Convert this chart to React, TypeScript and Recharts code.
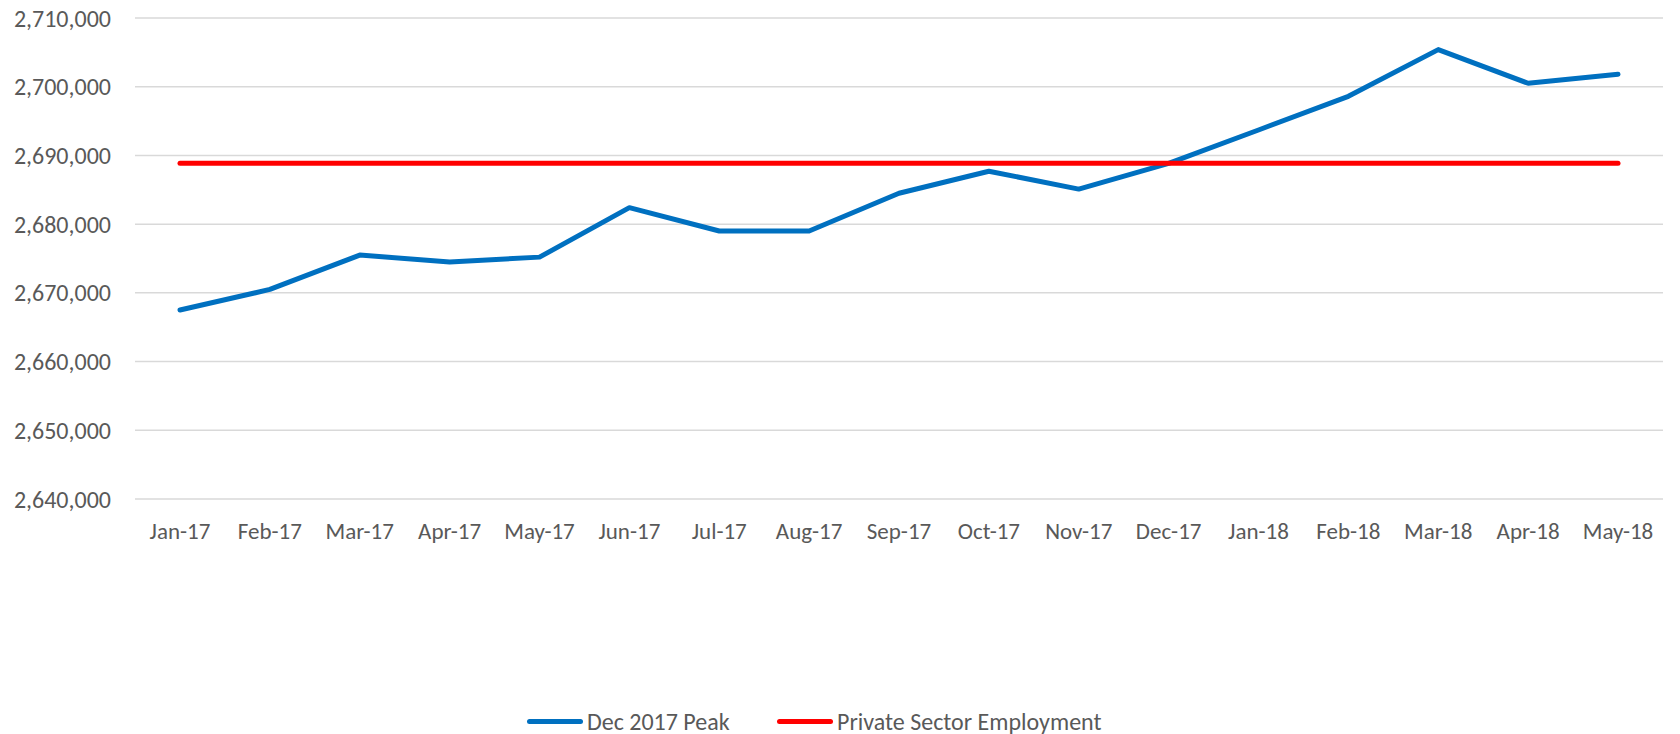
import { LineChart, Line, XAxis, YAxis, CartesianGrid } from "recharts";

const months = [
  "Jan-17", "Feb-17", "Mar-17", "Apr-17", "May-17", "Jun-17", "Jul-17", "Aug-17", "Sep-17",
  "Oct-17", "Nov-17", "Dec-17", "Jan-18", "Feb-18", "Mar-18", "Apr-18", "May-18",
];

const peakSeries = [
  2667500, 2670500, 2675500, 2674500, 2675200, 2682400, 2679000, 2679000, 2684500,
  2687700, 2685100, 2688850, 2693700, 2698600, 2705400, 2700500, 2701800,
];

const privateSector = [
  2688850, 2688850, 2688850, 2688850, 2688850, 2688850, 2688850, 2688850, 2688850,
  2688850, 2688850, 2688850, 2688850, 2688850, 2688850, 2688850, 2688850,
];

const yTicks = [2640000, 2650000, 2660000, 2670000, 2680000, 2690000, 2700000, 2710000];

const FONT = "Calibri, Carlito, 'Liberation Sans', Arial, sans-serif";
const TEXT = "#595959";

const data = months.map((m, i) => ({
  month: m,
  peak: peakSeries[i],
  priv: privateSector[i],
}));

function LegendItem({ left, color, label }: { left: number; color: string; label: string }) {
  return (
    <div style={{ position: "absolute", left, top: 707, display: "flex", alignItems: "center" }}>
      <div style={{ width: 56, height: 5, borderRadius: 3, background: color, marginRight: 4 }} />
      <span style={{ fontFamily: FONT, fontSize: 24, color: TEXT, lineHeight: "29px" }}>{label}</span>
    </div>
  );
}

export default function App() {
  return (
    <div style={{ position: "absolute", left: 0, top: 0, width: 1680, height: 734, background: "#fff" }}>
      <LineChart
        width={1680}
        height={734}
        data={data}
        margin={{ top: 18, right: 17, left: 0, bottom: 205 }}
      >
        <CartesianGrid vertical={false} stroke="#d9d9d9" strokeWidth={1.5} />
        <XAxis
          dataKey="month"
          axisLine={false}
          tickLine={false}
          tickSize={0}
          tickMargin={24}
          height={30}
          interval={0}
          padding={{ left: 45, right: 45 }}
          tick={{ fontSize: 23, fill: TEXT, fontFamily: FONT }}
        />
        <YAxis
          type="number"
          domain={[2640000, 2710000]}
          ticks={yTicks}
          width={135}
          axisLine={false}
          tickLine={false}
          tickSize={0}
          tickMargin={24}
          tickFormatter={(v: number) => v.toLocaleString("en-US")}
          tick={{ fontSize: 24, fill: TEXT, fontFamily: FONT }}
        />
        <Line
          type="linear"
          dataKey="peak"
          stroke="#0070c0"
          strokeWidth={5}
          strokeLinecap="round"
          strokeLinejoin="round"
          dot={false}
          isAnimationActive={false}
        />
        <Line
          type="linear"
          dataKey="priv"
          stroke="#ff0000"
          strokeWidth={5}
          strokeLinecap="round"
          dot={false}
          isAnimationActive={false}
        />
      </LineChart>
      <LegendItem left={527} color="#0070c0" label="Dec 2017 Peak" />
      <LegendItem left={777} color="#ff0000" label="Private Sector Employment" />
    </div>
  );
}
